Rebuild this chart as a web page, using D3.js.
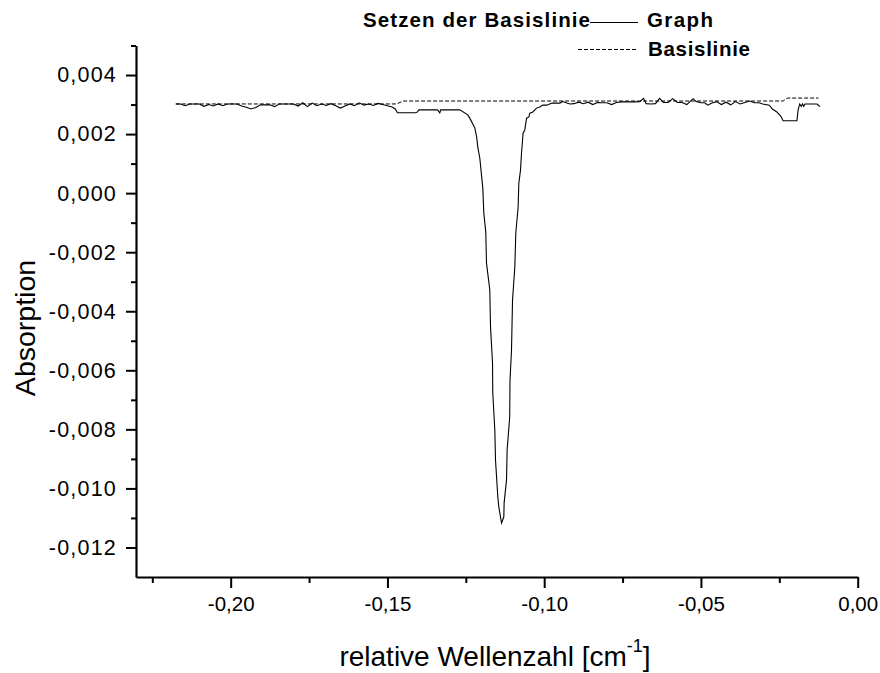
<!DOCTYPE html>
<html><head><meta charset="utf-8">
<script src="https://cdn.jsdelivr.net/npm/d3@7"></script>
<style>
body{margin:0;background:#fff;}
text{font-family:"Liberation Sans",Arial,sans-serif;fill:#000;}
</style></head>
<body><svg id="c" width="880" height="673"></svg>
<script>
// ---- data ----
const wavenumber = [
-0.2175,-0.2160,-0.2145,-0.2130,-0.2115,-0.2100,-0.2085,-0.2070,-0.2055,-0.2040,
-0.2025,-0.2010,-0.1995,-0.1980,-0.1965,-0.1950,-0.1935,-0.1920,-0.1905,-0.1890,
-0.1875,-0.1860,-0.1845,-0.1830,-0.1815,-0.1800,-0.1785,-0.1770,-0.1755,-0.1740,
-0.1725,-0.1710,-0.1695,-0.1680,-0.1665,-0.1650,-0.1635,-0.1620,-0.1605,-0.1590,
-0.1575,-0.1560,-0.1545,-0.1530,-0.1515,-0.1500,-0.1485,
-0.1475,-0.1468,-0.1440,-0.1410,-0.1404,-0.1400,-0.1370,-0.1340,-0.1333,-0.1330,-0.1300,-0.1275,
-0.12692,-0.12437,-0.12373,-0.12213,-0.12150,-0.12118,-0.12054,-0.11990,-0.11958,-0.11926,
-0.11863,-0.11840,-0.11735,-0.11712,-0.11648,-0.11640,-0.11575,-0.11553,-0.11479,-0.11447,-0.11361,
-0.11288,-0.11278,-0.11202,-0.11182,-0.11100,-0.11090,-0.11042,-0.11010,-0.10937,-0.10905,
-0.10831,-0.10809,-0.10755,-0.10723,-0.10672,-0.10618,-0.10563,-0.10490,-0.10458,-0.10362,
-0.10298,-0.10244,-0.10139,-0.10043,-0.09915,-0.09756,-0.09500,-0.09405,-0.09277,-0.09181,
-0.0905,-0.0890,-0.0875,-0.0860,-0.0845,-0.0830,-0.0815,-0.0800,-0.0785,-0.0770,
-0.0755,-0.0740,-0.0725,-0.0710,-0.0695,-0.0683,-0.0675,-0.0660,-0.0645,-0.0632,
-0.0620,-0.0605,-0.0590,-0.0575,-0.0560,-0.0545,-0.0535,-0.0525,-0.0515,-0.0500,
-0.0488,-0.0478,-0.0465,-0.0450,-0.0435,-0.0420,-0.0405,-0.0390,-0.0375,-0.0360,
-0.0345,-0.0330,-0.0315,-0.0303,
-0.0282,-0.0272,-0.0258,-0.0245,-0.0238,-0.0194,-0.0190,-0.0185,-0.0180,-0.0176,
-0.0172,-0.0168,-0.0150,-0.0130,-0.0120
];
const absorption = [
0.00302,0.00302,0.00296,0.00302,0.00302,0.00302,0.00294,0.00300,0.00295,0.00302,
0.00296,0.00302,0.00302,0.00302,0.00295,0.00291,0.00285,0.00290,0.00299,0.00299,
0.00299,0.00293,0.00302,0.00302,0.00302,0.00302,0.00295,0.00306,0.00293,0.00305,
0.00296,0.00302,0.00297,0.00303,0.00296,0.00288,0.00295,0.00302,0.00296,0.00306,
0.00298,0.00302,0.00297,0.00304,0.00300,0.00296,0.00292,
0.00285,0.00272,0.00272,0.00272,0.00275,0.00282,0.00282,0.00282,0.00272,0.00282,0.00282,0.00282,
0.00282,0.00265,0.00254,0.00221,0.00187,0.00156,0.00119,0.00051,0.00017,-0.00067,
-0.00132,-0.00237,-0.00328,-0.00453,-0.00575,-0.00677,-0.00802,-0.00904,-0.01029,-0.01063,-0.01117,
-0.01097,-0.01049,-0.00972,-0.00870,-0.00758,-0.00633,-0.00531,-0.00362,-0.00250,-0.00135,
-0.00047,0.00034,0.00078,0.00136,0.00204,0.00214,0.00254,0.00258,0.00271,0.00275,
0.00282,0.00288,0.00292,0.00298,0.00298,0.00305,0.00305,0.00310,0.00305,0.00302,
0.00303,0.00308,0.00303,0.00308,0.00300,0.00307,0.00306,0.00306,0.00300,0.00307,
0.00309,0.00309,0.00309,0.00309,0.00310,0.00321,0.00303,0.00302,0.00303,0.00321,
0.00307,0.00307,0.00320,0.00307,0.00307,0.00300,0.00310,0.00320,0.00310,0.00306,
0.00306,0.00298,0.00305,0.00310,0.00300,0.00308,0.00299,0.00310,0.00302,0.00307,
0.00312,0.00306,0.00306,0.00302,
0.00298,0.00285,0.00275,0.00260,0.00245,0.00245,0.00282,0.00302,0.00294,0.00302,
0.00294,0.00302,0.00302,0.00302,0.00293
];
const baselineX = [-0.2175,-0.1470,-0.1451,-0.0238,-0.0225,-0.0125];
const baselineY = [0.00302,0.00302,0.00312,0.00312,0.00322,0.00322];

const xMajor = [-0.20,-0.15,-0.10,-0.05,0.00];
const xMinor = [-0.225,-0.175,-0.125,-0.075,-0.025];
const xTickLabels = ["-0,20","-0,15","-0,10","-0,05","0,00"];
const yMajor = [-0.012,-0.010,-0.008,-0.006,-0.004,-0.002,0.000,0.002,0.004];
const yMinor = [-0.011,-0.009,-0.007,-0.005,-0.003,-0.001,0.001,0.003,0.005];
const yTickLabels = ["-0,012","-0,010","-0,008","-0,006","-0,004","-0,002","0,000","0,002","0,004"];
const legendTitle = "Setzen der Basislinie";
const seriesNames = ["Graph","Basislinie"];

// ---- chart ----
const svg = d3.select("#c");
const x = d3.scaleLinear().domain([-0.2302, 0]).range([136, 857.7]);
const y = d3.scaleLinear().domain([-0.013, 0.005]).range([577, 45.5]);

// minor ticks
const xMinorAxis = d3.axisBottom(x).tickValues(xMinor).tickSize(6).tickSizeOuter(0).tickFormat("");
const gxm = svg.append("g").attr("transform","translate(0,577)").call(xMinorAxis);
gxm.select(".domain").remove();
gxm.selectAll("line").attr("stroke","#000").attr("stroke-width",2);

const yMinorAxis = d3.axisLeft(y).tickValues(yMinor).tickSize(5).tickSizeOuter(0).tickFormat("");
const gym = svg.append("g").attr("transform","translate(136,0)").call(yMinorAxis);
gym.select(".domain").remove();
gym.selectAll("line").attr("stroke","#000").attr("stroke-width",2);

// major axes
const xAxis = d3.axisBottom(x).tickValues(xMajor).tickSize(11).tickSizeOuter(0)
  .tickPadding(8).tickFormat((d,i)=>xTickLabels[i]);
const gx = svg.append("g").attr("transform","translate(0,577)").call(xAxis);
gx.select(".domain").attr("stroke","#000").attr("stroke-width",2.2);
gx.selectAll(".tick line").attr("stroke","#000").attr("stroke-width",2);
gx.selectAll(".tick text").attr("font-size",20.5).attr("font-family","Liberation Sans, Arial").attr("fill","#000");

const yAxis = d3.axisLeft(y).tickValues(yMajor).tickSize(10).tickSizeOuter(0)
  .tickPadding(9).tickFormat((d,i)=>yTickLabels[i]);
const gy = svg.append("g").attr("transform","translate(136,0)").call(yAxis);
gy.select(".domain").attr("stroke","#000").attr("stroke-width",2.2);
gy.selectAll(".tick line").attr("stroke","#000").attr("stroke-width",2);
gy.selectAll(".tick text").attr("font-size",21.5).attr("font-family","Liberation Sans, Arial").attr("fill","#000")
  .attr("letter-spacing","1.2px");

// axis titles
svg.append("text").attr("transform","translate(35,328) rotate(-90)")
  .attr("text-anchor","middle").attr("font-size",28.5).text("Absorption");
const xt = svg.append("text").attr("x",495).attr("y",666).attr("text-anchor","middle").attr("font-size",28);
xt.append("tspan").text("relative Wellenzahl [cm");
xt.append("tspan").attr("dy",-14).attr("font-size",18).text("-1");
xt.append("tspan").attr("dy",14).text("]");

// data lines
const line = d3.line().x(d=>x(d[0])).y(d=>y(d[1]));
const graphPts = wavenumber.map((v,i)=>[v,absorption[i]]);
const basePts = baselineX.map((v,i)=>[v,baselineY[i]]);
svg.append("path").datum(basePts).attr("d",line).attr("fill","none")
  .attr("stroke","#000").attr("stroke-width",1).attr("stroke-dasharray","4,2");
svg.append("path").datum(graphPts).attr("d",line).attr("fill","none")
  .attr("stroke","#000").attr("stroke-width",1.1);

// legend
svg.append("text").attr("x",363).attr("y",27).attr("font-size",20.5).attr("font-weight","bold")
  .attr("textLength",227).attr("lengthAdjust","spacing").text(legendTitle);
svg.append("line").attr("x1",590).attr("x2",638).attr("y1",22.5).attr("y2",22.5)
  .attr("stroke","#000").attr("stroke-width",1.1);
svg.append("text").attr("x",647).attr("y",27).attr("font-size",20.5).attr("font-weight","bold")
  .attr("textLength",66).attr("lengthAdjust","spacing").text(seriesNames[0]);
svg.append("line").attr("x1",578).attr("x2",638).attr("y1",49.5).attr("y2",49.5)
  .attr("stroke","#000").attr("stroke-width",1).attr("stroke-dasharray","4,2");
svg.append("text").attr("x",648).attr("y",56).attr("font-size",20.5).attr("font-weight","bold")
  .attr("textLength",102).attr("lengthAdjust","spacing").text(seriesNames[1]);
</script></body></html>
